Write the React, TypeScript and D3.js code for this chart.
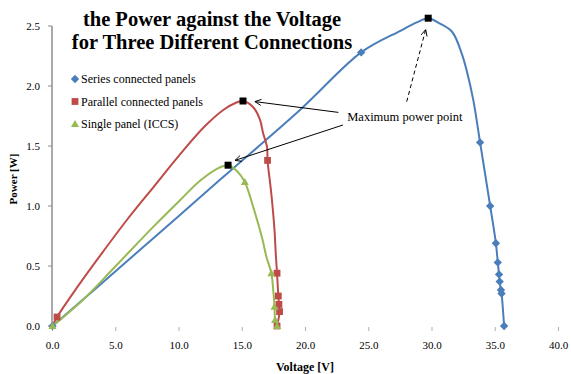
import { useMemo } from "react";
import * as d3 from "d3";

const WIDTH = 571;
const HEIGHT = 374;

type Pt = [number, number];

// voltage [V], power [W]
const seriesCurve: Pt[] = [
  [0, 0], [6, 0.55], [13.26, 1.22], [19.56, 1.8], [24.4, 2.28], [27.5, 2.46],
  [28.8, 2.53], [29.7, 2.565], [30.63, 2.52], [31.6, 2.45], [32.35, 2.27],
  [32.74, 2.13], [33.27, 1.88], [33.8, 1.53], [34.6, 1.0], [35.05, 0.69],
  [35.2, 0.53], [35.3, 0.43], [35.35, 0.37], [35.45, 0.3], [35.5, 0.27], [35.7, 0],
];
const seriesMarkers: Pt[] = [
  [0, 0], [24.4, 2.28], [33.8, 1.53], [34.6, 1.0], [35.05, 0.69], [35.2, 0.53],
  [35.3, 0.43], [35.35, 0.37], [35.45, 0.3], [35.5, 0.27], [35.7, 0],
];

const parallelCurve: Pt[] = [
  [0, 0], [0.36, 0.075], [2, 0.33], [4, 0.62], [6, 0.9], [8, 1.16], [10, 1.42],
  [12, 1.66], [13.5, 1.8], [14.5, 1.86], [15.06, 1.875], [15.85, 1.825],
  [16.4, 1.72], [16.64, 1.61], [16.96, 1.49], [17.0, 1.38], [17.3, 1.1],
  [17.55, 0.8], [17.65, 0.6], [17.75, 0.44], [17.85, 0.25], [17.9, 0.18],
  [17.95, 0.12], [17.75, 0],
];
const parallelMarkers: Pt[] = [
  [0.36, 0.075], [17.0, 1.38], [17.75, 0.44], [17.85, 0.25], [17.9, 0.18],
  [17.95, 0.12], [17.75, 0],
];

const singleCurve: Pt[] = [
  [0, 0], [2.4, 0.217], [5, 0.5], [8, 0.83], [10, 1.04], [11.66, 1.21],
  [13, 1.31], [13.88, 1.34], [14.6, 1.29], [15.2, 1.2], [15.9, 0.98],
  [16.6, 0.72], [16.9, 0.58], [17.3, 0.44], [17.45, 0.3], [17.55, 0.16],
  [17.6, 0.05], [17.75, 0],
];
const singleMarkers: Pt[] = [
  [0, 0], [15.2, 1.2], [17.3, 0.44], [17.55, 0.16], [17.6, 0.05], [17.75, 0],
];

// maximum power points (black squares)
const maxPoints: Pt[] = [[29.7, 2.565], [15.06, 1.875], [13.88, 1.34]];

// annotation arrows: from, to (data units)
const annotationText = "Maximum power point";
const annotationAt: Pt = [23.3, 1.74];
const solidArrows: [Pt, Pt][] = [
  [[22.6, 1.78], [16.0, 1.87]],
  [[22.96, 1.675], [14.43, 1.38]],
];
const dashedArrows: [Pt, Pt][] = [[[28.0, 1.87], [29.5, 2.47]]];

const xTicks = [0, 5, 10, 15, 20, 25, 30, 35, 40];
const yTicks = [0, 0.5, 1, 1.5, 2, 2.5];

const titleLines = ["the Power against the Voltage", "for Three Different Connections"];
const legendNames = ["Series connected panels", "Parallel connected panels", "Single panel (ICCS)"];

const BLUE = "#4a7ebb";
const RED = "#be4b48";
const GREEN = "#98b954";
const FONT = "'Liberation Serif', 'Times New Roman', 'DejaVu Serif', serif";

function Marker({ kind, x, y, color }: { kind: string; x: number; y: number; color: string }) {
  if (kind === "diamond") {
    const s = 4.2;
    return <path d={`M${x},${y - s}L${x + s},${y}L${x},${y + s}L${x - s},${y}Z`} fill={color} />;
  }
  if (kind === "square") {
    const s = 3.4;
    return <rect x={x - s} y={y - s} width={s * 2} height={s * 2} fill={color} />;
  }
  const s = 4;
  return <path d={`M${x},${y - s}L${x + s},${y + s * 0.75}L${x - s},${y + s * 0.75}Z`} fill={color} />;
}

function Arrow({ from, to, dashed }: { from: Pt; to: Pt; dashed?: boolean }) {
  const ang = Math.atan2(to[1] - from[1], to[0] - from[0]);
  const L = 7;
  const a1 = ang + Math.PI - 0.45;
  const a2 = ang + Math.PI + 0.45;
  const p1: Pt = [to[0] + L * Math.cos(a1), to[1] + L * Math.sin(a1)];
  const p2: Pt = [to[0] + L * Math.cos(a2), to[1] + L * Math.sin(a2)];
  return (
    <g stroke="#000" strokeWidth={1} fill="none">
      <line x1={from[0]} y1={from[1]} x2={to[0]} y2={to[1]} strokeDasharray={dashed ? "4,3" : undefined} />
      <polyline points={`${p1[0]},${p1[1]} ${to[0]},${to[1]} ${p2[0]},${p2[1]}`} />
    </g>
  );
}

export default function App() {
  const x = d3.scaleLinear().domain([0, 40]).range([52.5, 558.5]);
  const y = d3.scaleLinear().domain([0, 2.5]).range([326, 26]);

  const line = useMemo(
    () =>
      d3
        .line<Pt>()
        .x((d) => x(d[0]))
        .y((d) => y(d[1]))
        .curve(d3.curveCatmullRom.alpha(0.5)),
    []
  );

  const series = [
    { name: legendNames[0], curve: seriesCurve, markers: seriesMarkers, color: BLUE, kind: "diamond" },
    { name: legendNames[1], curve: parallelCurve, markers: parallelMarkers, color: RED, kind: "square" },
    { name: legendNames[2], curve: singleCurve, markers: singleMarkers, color: GREEN, kind: "triangle" },
  ];

  const px = (p: Pt): Pt => [x(p[0]), y(p[1])];

  return (
    <svg
      width={WIDTH}
      height={HEIGHT}
      style={{ position: "absolute", left: 0, top: 0, background: "#fff", fontFamily: FONT }}
    >
      {/* y axis */}
      <line x1={52} x2={52} y1={y(2.5)} y2={y(0)} stroke="#8c8c8c" strokeWidth={1.5} />
      {yTicks.map((t) => (
        <g key={t}>
          <line x1={48} x2={52} y1={y(t)} y2={y(t)} stroke="#8c8c8c" />
          <text x={40} y={y(t) + 4} textAnchor="end" fontSize={11} fill="#000">
            {t.toFixed(1)}
          </text>
        </g>
      ))}
      {/* x ticks + labels */}
      {xTicks.map((t) => (
        <g key={t}>
          <line x1={x(t)} x2={x(t)} y1={327} y2={331} stroke="#b0b0b0" />
          <text x={x(t)} y={349} textAnchor="middle" fontSize={11} fill="#000">
            {t.toFixed(1)}
          </text>
        </g>
      ))}
      <text x={305} y={371} textAnchor="middle" fontSize={12} fontWeight="bold">
        Voltage [V]
      </text>
      <text transform="translate(17,179) rotate(-90)" textAnchor="middle" fontSize={11} fontWeight="bold">
        Power [W]
      </text>

      {/* curves */}
      {series.map((s) => (
        <path key={s.name} d={line(s.curve) || ""} fill="none" stroke={s.color} strokeWidth={2} />
      ))}
      {series.map((s) =>
        s.markers.map((m, i) => (
          <Marker key={s.name + i} kind={s.kind} x={x(m[0])} y={y(m[1])} color={s.color} />
        ))
      )}

      {/* maximum power points */}
      {maxPoints.map((m, i) => (
        <rect key={i} x={x(m[0]) - 3.5} y={y(m[1]) - 3.5} width={7} height={7} fill="#000" />
      ))}

      {/* annotation */}
      {solidArrows.map((a, i) => (
        <Arrow key={i} from={px(a[0])} to={px(a[1])} />
      ))}
      {dashedArrows.map((a, i) => (
        <Arrow key={"d" + i} from={px(a[0])} to={px(a[1])} dashed />
      ))}
      <text x={x(annotationAt[0])} y={y(annotationAt[1]) + 4} fontSize={12.5}>
        {annotationText}
      </text>

      {/* legend */}
      {series.map((s, i) => (
        <g key={"lg" + i} transform={`translate(75,${79 + i * 22.5})`}>
          <Marker kind={s.kind} x={0} y={0} color={s.color} />
          <text x={6} y={4} fontSize={12}>
            {s.name}
          </text>
        </g>
      ))}

      {/* title */}
      {titleLines.map((t, i) => (
        <text key={t} x={212} y={26 + i * 23} textAnchor="middle" fontSize={20.5} fontWeight="bold">
          {t}
        </text>
      ))}
    </svg>
  );
}
